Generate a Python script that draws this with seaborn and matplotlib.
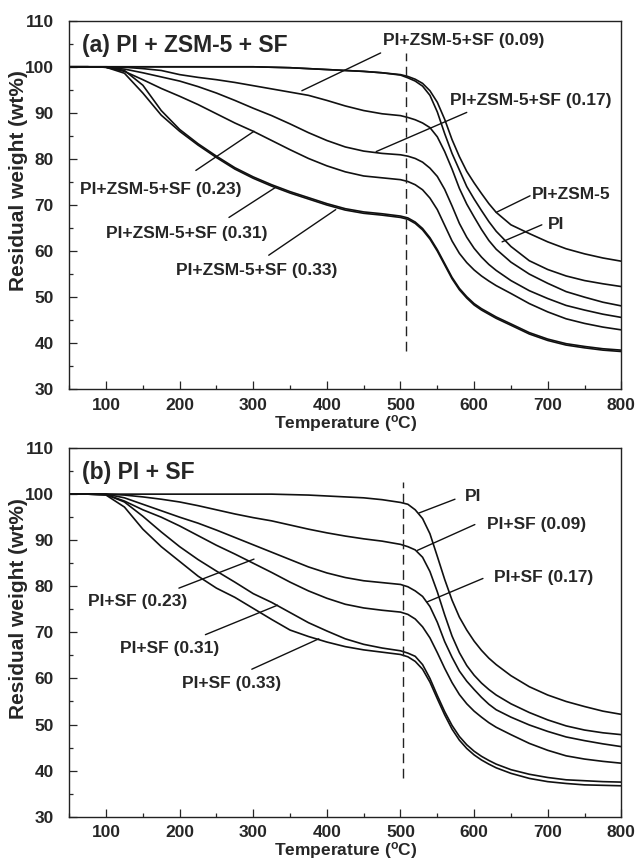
import numpy as np
import pandas as pd
import matplotlib
matplotlib.use("Agg")
import matplotlib.pyplot as plt
import seaborn as sns

# temperature grid (degC) shared by every curve
temp = ([50, 75, 100, 125, 150, 175, 200, 225, 250, 275, 300, 325, 350, 375, 400, 425, 450, 475, 500]
        + [510, 520, 530, 540, 550, 560, 570, 580, 590, 600, 610, 620, 630]
        + [650, 675, 700, 725, 750, 775, 800])

# panel (a): PI + ZSM-5 + SF, residual weight (wt%)
a_pi_zsm5 = [100, 100, 100, 100, 100, 100, 100, 100, 100, 100, 100, 99.9, 99.8, 99.6, 99.4, 99.2, 99.0, 98.7, 98.3,
             97.9, 97.3, 96.4, 94.8, 92.3, 88.6, 84.2, 80.5, 77.3, 74.8, 72.5, 70.3, 68.4,
             65.7, 63.8, 62.0, 60.5, 59.4, 58.5, 57.8]
a_pi = [100, 100, 100, 100, 100, 100, 100, 100, 100, 100, 100, 99.9, 99.8, 99.6, 99.4, 99.2, 99.0, 98.7, 98.2,
        97.6, 96.9, 95.8, 93.8, 90.2, 85.5, 81.2, 77.6, 74.0, 71.3, 68.8, 66.4, 64.3,
        61.0, 57.9, 56.0, 54.6, 53.6, 52.9, 52.3]
a_009 = [100, 100, 100, 99.9, 99.6, 99.2, 98.3, 97.7, 97.2, 96.6, 95.9, 95.2, 94.5, 93.8, 92.7, 91.5, 90.5, 89.8, 89.4,
         89.0, 88.5, 87.8, 86.8, 84.8, 81.6, 77.8, 73.6, 70.2, 67.4, 64.7, 62.3, 60.4,
         57.6, 55.0, 53.0, 51.2, 50.0, 48.9, 48.1]
a_017 = [100, 100, 99.9, 99.5, 98.7, 97.8, 96.9, 95.7, 94.3, 92.7, 91.0, 89.4, 87.6, 85.7, 84.0, 82.6, 81.7, 81.2, 80.9,
         80.6, 80.1, 79.3, 78.0, 76.2, 73.4, 69.8, 66.0, 63.0, 60.6, 58.7, 57.1, 55.8,
         53.6, 51.4, 49.7, 48.2, 47.2, 46.3, 45.6]
a_023 = [100, 100, 99.9, 99.0, 97.2, 95.3, 93.6, 91.8, 89.8, 87.8, 86.0, 84.0, 82.0, 80.1, 78.5, 77.2, 76.3, 75.9, 75.5,
         75.1, 74.4, 73.3, 71.5, 69.0, 65.6, 62.2, 59.5, 57.5, 55.9, 54.6, 53.5, 52.5,
         50.8, 48.6, 46.8, 45.3, 44.3, 43.5, 42.9]
a_031 = [100, 100, 99.9, 99.2, 96.0, 90.5, 86.4, 83.3, 80.6, 78.1, 76.1, 74.4, 72.9, 71.6, 70.3, 69.2, 68.5, 68.1, 67.6,
         67.2, 66.3, 64.9, 62.9, 60.3, 57.3, 54.3, 51.9, 50.1, 48.6, 47.5, 46.6, 45.7,
         44.2, 42.3, 40.9, 39.9, 39.3, 38.8, 38.5]
a_033 = [100, 100, 99.9, 98.6, 94.3, 89.5, 86.0, 83.0, 80.3, 77.8, 75.8, 74.1, 72.6, 71.3, 70.0, 68.9, 68.2, 67.8, 67.3,
         66.9, 66.0, 64.6, 62.6, 60.0, 57.0, 54.0, 51.6, 49.8, 48.3, 47.2, 46.3, 45.4,
         43.9, 42.0, 40.6, 39.6, 39.0, 38.5, 38.2]

# panel (b): PI + SF
b_pi = [100, 100, 100, 100, 100, 100, 100, 100, 100, 100, 100, 100, 99.9, 99.8, 99.6, 99.4, 99.2, 98.8, 98.2,
        97.8, 96.6, 94.7, 91.4, 86.5, 81.5, 77.0, 73.3, 70.5, 68.1, 66.1, 64.4, 63.0,
        60.6, 58.2, 56.4, 55.0, 53.9, 52.9, 52.2]
b_009 = [100, 100, 100, 99.8, 99.4, 98.9, 98.3, 97.5, 96.6, 95.7, 94.9, 94.2, 93.3, 92.4, 91.6, 90.9, 90.3, 89.8, 89.1,
         88.6, 87.9, 86.3, 83.2, 78.8, 73.8, 69.2, 65.6, 62.8, 60.7, 59.0, 57.6, 56.4,
         54.5, 52.6, 51.0, 49.7, 48.8, 48.2, 47.8]
b_017 = [100, 100, 100, 99.2, 97.8, 96.4, 95.0, 93.7, 92.2, 90.6, 89.0, 87.4, 85.8, 84.2, 82.9, 81.9, 81.2, 80.8, 80.4,
         79.9, 79.0, 77.8, 75.6, 72.2, 68.0, 64.6, 61.6, 59.4, 57.6, 55.9, 54.4, 53.2,
         51.6, 49.9, 48.5, 47.3, 46.5, 45.8, 45.2]
b_023 = [100, 100, 99.9, 98.5, 96.6, 95.0, 93.1, 91.0, 88.9, 87.0, 85.0, 83.0, 80.9, 79.0, 77.4, 76.1, 75.3, 74.8, 74.4,
         73.9, 72.9, 71.2, 68.8, 65.6, 62.2, 59.1, 56.5, 54.5, 52.9, 51.6, 50.4, 49.4,
         47.8, 45.9, 44.4, 43.2, 42.5, 42.0, 41.6]
b_031 = [100, 100, 99.9, 98.3, 95.2, 91.8, 88.6, 85.8, 83.3, 80.9, 78.4, 76.5, 74.3, 72.1, 70.3, 68.6, 67.4, 66.6, 66.0,
         65.5, 64.8, 63.0, 60.0, 56.3, 52.8, 49.8, 47.4, 45.6, 44.2, 43.1, 42.2, 41.4,
         40.2, 39.2, 38.5, 38.0, 37.8, 37.6, 37.5]
b_033 = [100, 100, 99.8, 97.2, 92.4, 88.6, 85.4, 82.2, 79.6, 77.6, 75.2, 72.8, 70.5, 69.1, 67.9, 66.9, 66.2, 65.7, 65.2,
         64.7, 63.7, 62.0, 59.2, 55.6, 52.1, 49.0, 46.6, 44.8, 43.4, 42.3, 41.4, 40.6,
         39.4, 38.3, 37.6, 37.2, 36.9, 36.8, 36.7]

# dashed marker line: temperature, bottom, top
dash_a = (508, 38.3, 102.9)
dash_b = (504, 38.3, 102.7)

# labels: text, text x, text y, ha, leader start (x, y), leader end (x, y)
labels_a = [
    ("PI+ZSM-5+SF (0.09)", 586, 105.6, "center", (366, 94.8), (473, 103.0)),
    ("PI+ZSM-5+SF (0.17)", 677, 92.6, "center", (467, 81.6), (590, 90.1)),
    ("PI+ZSM-5", 678, 72.2, "left", (630, 68.4), (676, 72.0)),
    ("PI", 700, 65.7, "left", (638, 62.0), (692, 65.7)),
    ("PI+ZSM-5+SF (0.23)", 174, 73.3, "center", (222, 77.5), (301, 86.0)),
    ("PI+ZSM-5+SF (0.31)", 209, 63.9, "center", (267, 67.3), (331, 73.9)),
    ("PI+ZSM-5+SF (0.33)", 305, 55.7, "center", (321, 59.1), (412, 69.0)),
]
labels_b = [
    ("PI", 587, 99.5, "left", (525, 95.9), (574, 98.9)),
    ("PI+SF (0.09)", 685, 93.4, "center", (523, 87.8), (601, 93.4)),
    ("PI+SF (0.17)", 695, 81.8, "center", (536, 76.6), (612, 81.7)),
    ("PI+SF (0.23)", 143, 76.7, "center", (199, 79.6), (301, 85.9)),
    ("PI+SF (0.31)", 186, 66.6, "center", (235, 69.5), (333, 75.9)),
    ("PI+SF (0.33)", 270, 59.0, "center", (298, 62.0), (389, 68.6)),
]

sns.set_style("ticks")
plt.rcParams["font.family"] = ["Liberation Sans", "DejaVu Sans"]
plt.rcParams["font.weight"] = "bold"
plt.rcParams["axes.labelweight"] = "bold"
plt.rcParams["mathtext.fontset"] = "custom"
plt.rcParams["mathtext.rm"] = "Liberation Sans:bold"
plt.rcParams["mathtext.it"] = "Liberation Sans:bold"
plt.rcParams["mathtext.default"] = "rm"


def make_frame(curves):
    rows = []
    for name, vals in curves.items():
        rows.append(pd.DataFrame({"T": temp, "W": vals, "sample": name}))
    return pd.concat(rows, ignore_index=True)


def draw_panel(ax, curves, title, dash, labels):
    df = make_frame(curves)
    sns.lineplot(data=df, x="T", y="W", units="sample", estimator=None,
                 color="#111111", lw=1.2, ax=ax, legend=False)
    ax.vlines(dash[0], dash[1], dash[2], colors="#222222", lw=1.0,
              linestyles=(0, (7, 4)))
    for txt, tx, ty, ha, p0, p1 in labels:
        ax.plot([p0[0], p1[0]], [p0[1], p1[1]], color="#111111", lw=1.0)
        ax.text(tx, ty, txt, ha=ha, va="center", fontsize=12.5, fontweight="bold")
    ax.text(67, 104.7, title, ha="left", va="center", fontsize=16.5, fontweight="bold")

    ax.set_xlim(50, 800)
    ax.set_ylim(30, 110)
    ax.set_xticks(range(100, 801, 100))
    ax.set_xticks(range(50, 801, 50), minor=True)
    ax.set_yticks(range(30, 111, 10))
    ax.set_yticks(range(35, 110, 10), minor=True)
    ax.tick_params(which="major", direction="in", length=5.5, width=0.9, labelsize=12.5,
                   top=False, right=False)
    ax.tick_params(which="minor", direction="in", length=2.7, width=0.9, top=False, right=False)
    ax.tick_params(axis="y", which="major", pad=11)
    ax.tick_params(axis="x", which="major", pad=6)
    for lab in ax.get_xticklabels() + ax.get_yticklabels():
        lab.set_fontweight("bold")
    for sp in ax.spines.values():
        sp.set_visible(True)
        sp.set_linewidth(1.0)
        sp.set_color("#222222")
    ax.set_xlabel("Temperature ($^{o}$C)", fontsize=12.5, labelpad=0)
    ax.set_ylabel("Residual weight (wt%)", fontsize=15)
    ax.yaxis.set_label_coords(-0.075, 0.565)


fig = plt.figure(figsize=(6.38, 8.63), dpi=100)
ax_a = fig.add_axes([0.1085, 0.5489, 0.8654, 0.4271])
ax_b = fig.add_axes([0.1085, 0.0537, 0.8654, 0.4271])

draw_panel(ax_a, {"PI+ZSM-5": a_pi_zsm5, "PI": a_pi, "0.09": a_009, "0.17": a_017,
                  "0.23": a_023, "0.31": a_031, "0.33": a_033},
           "(a) PI + ZSM-5 + SF", dash_a, labels_a)
draw_panel(ax_b, {"PI": b_pi, "0.09": b_009, "0.17": b_017, "0.23": b_023,
                  "0.31": b_031, "0.33": b_033},
           "(b) PI + SF", dash_b, labels_b)

fig.savefig("out.png", dpi=100)
